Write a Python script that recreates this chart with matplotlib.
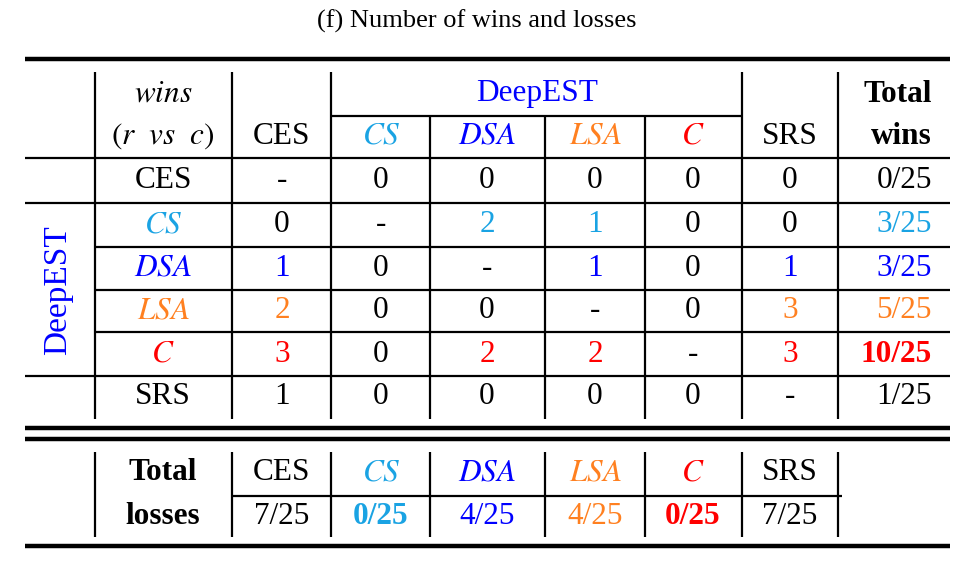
import matplotlib.pyplot as plt

plt.rcParams['font.family'] = ['Liberation Serif', 'DejaVu Serif']
plt.rcParams['mathtext.fontset'] = 'stix'

methods = ['CES', 'CS', 'DSA', 'LSA', 'C', 'SRS']
# wins[r][c], None on the diagonal
wins = [
    [None, 0, 0, 0, 0, 0],
    [0, None, 2, 1, 0, 0],
    [1, 0, None, 1, 0, 1],
    [2, 0, 0, None, 0, 3],
    [3, 0, 2, 2, None, 3],
    [1, 0, 0, 0, 0, None],
]
total_wins = ['0/25', '3/25', '3/25', '5/25', '10/25', '1/25']
total_losses = ['7/25', '0/25', '4/25', '4/25', '0/25', '7/25']
bold_wins = ['10/25']
bold_losses = ['CS', 'C']

colors = {'CES': 'black', 'CS': '#1aa3e3', 'DSA': '#0000ff',
          'LSA': '#ff8020', 'C': '#ff0000', 'SRS': 'black'}
labels = {'CES': 'CES', 'CS': '$CS$', 'DSA': '$DSA$',
          'LSA': '$LSA$', 'C': '$C$', 'SRS': 'SRS'}

fig = plt.figure(figsize=(9.76, 5.65), dpi=100)
ax = fig.add_axes([0, 0, 1, 1])
ax.set_xlim(0, 976)
ax.set_ylim(565, 0)
ax.axis('off')

FS = 22.5
col_x = [282, 381, 487, 595, 693, 790]
row_y = [181, 225, 268, 311, 354, 397]
lab_x = 163
tot_r = 932


def hl(y, x0, x1, lw=1.6):
    ax.plot([x0, x1], [y, y], color='black', lw=lw, solid_capstyle='butt')


def vl(x, y0, y1, lw=1.6):
    ax.plot([x, x], [y0, y1], color='black', lw=lw, solid_capstyle='butt')


def txt(x, y, s, **kw):
    kw.setdefault('ha', 'center')
    ax.text(x, y, s, va='center', fontsize=kw.pop('fontsize', FS), **kw)


txt(477, 21, '(f) Number of wins and losses', fontsize=19)

# rules
hl(59, 25, 950, 3.2)
hl(116, 331, 742)
hl(158, 25, 950)
hl(203, 25, 950)
for y in [247, 290, 332]:
    hl(y, 95, 950)
hl(376, 25, 950)
hl(428, 25, 950, 3.2)
hl(439, 25, 950, 3.2)
hl(496, 232, 842)
hl(546, 25, 950, 3.2)
for x in [95, 232, 331, 742, 838]:
    vl(x, 72, 419)
for x in [430, 545, 645]:
    vl(x, 116, 419)
for x in [95, 232, 331, 430, 545, 645, 742, 838]:
    vl(x, 452, 537)

# header
txt(lab_x, 94, '$wins$')
txt(lab_x, 136, r'$(r\ \ vs\ \ c)$')
txt(col_x[0], 136, 'CES')
txt(537, 94, 'DeepEST', color='#0000ff')
for i, m in enumerate(methods[1:], start=1):
    txt(col_x[i], 136, labels[m], color=colors[m])
txt(tot_r, 94, 'Total', ha='right', weight='bold')
txt(tot_r, 136, 'wins', ha='right', weight='bold')
txt(58, 290, 'DeepEST', color='#0000ff', rotation=90, fontsize=24)

# body
for r, m in enumerate(methods):
    y = row_y[r]
    txt(lab_x, y, labels[m], color=colors[m])
    for c, v in enumerate(wins[r]):
        if v is None:
            txt(col_x[c], y, '-')
        else:
            txt(col_x[c], y, str(v), color=colors[m] if v > 0 else 'black')
    tw = total_wins[r]
    txt(tot_r, y, tw, ha='right',
        color=colors[m] if not tw.startswith('0/') and tw != '1/25' else 'black',
        weight='bold' if tw in bold_wins else 'normal')

# totals of losses
txt(lab_x, 473, 'Total', weight='bold')
txt(lab_x, 516, 'losses', weight='bold')
for c, m in enumerate(methods):
    txt(col_x[c], 473, labels[m], color=colors[m])
    txt(col_x[c], 516, total_losses[c], color=colors[m],
        weight='bold' if m in bold_losses else 'normal')

fig.savefig('out.png', dpi=100)
